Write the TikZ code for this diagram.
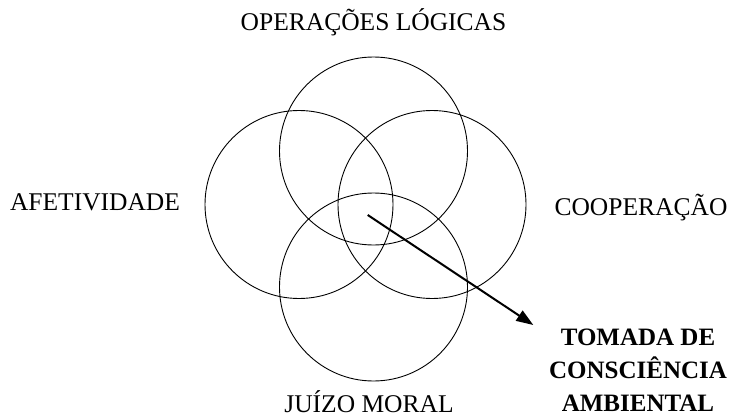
\documentclass[tikz,border=0pt]{standalone}
\usepackage{fontspec}
\setmainfont{Liberation Serif}
\usetikzlibrary{arrows.meta}
\begin{document}
\begin{tikzpicture}[x=1pt,y=-1pt,
  ring/.style={circle,draw,line width=0.9pt,minimum size=188pt,inner sep=0pt},
  lbl/.style={font=\fontsize{25.5}{30}\selectfont,inner sep=0pt,anchor=base},
  res/.style={font=\fontsize{25}{33}\selectfont\bfseries,align=center,inner sep=0pt,anchor=base},
  arr/.style={line width=2pt,-{Triangle[length=17pt,width=12pt]}}]
\useasboundingbox (0,0) rectangle (733,420);
\node[ring] (ctop) at (373.5,151) {};
\node[ring] (cleft) at (299,204.5) {};
\node[ring] (cright) at (432,204.5) {};
\node[ring] (cbot) at (373.5,287) {};
\node[lbl] (ops) at (373.5,31) {OPERAÇÕES LÓGICAS};
\node[lbl] (afet) at (95,210) {AFETIVIDADE};
\node[lbl] (coop) at (641,215) {COOPERAÇÃO};
\node[lbl] (juizo) at (369,412) {JUÍZO MORAL};
\node[res] (tomada) at (638,411) {TOMADA DE\\CONSCIÊNCIA\\AMBIENTAL};
\coordinate (s) at (367.7,215);
\coordinate (e) at (533.3,325);
\draw[arr] (s) -- (e);
\end{tikzpicture}
\end{document}
